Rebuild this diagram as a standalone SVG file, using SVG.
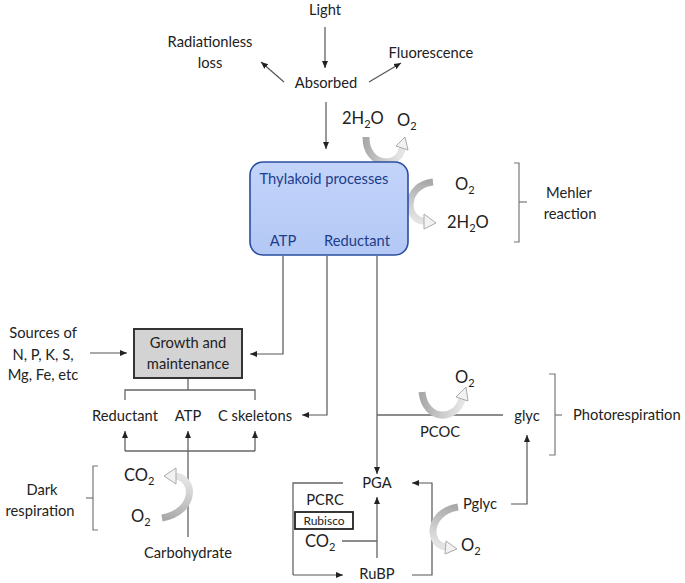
<svg xmlns="http://www.w3.org/2000/svg" width="685" height="583" viewBox="0 0 685 583">
<style>
text{font-family:Lato,"Open Sans","Liberation Sans",sans-serif;font-size:14.7px;fill:#222;}
.c{text-anchor:middle;}
.big{font-size:16.5px;}
.blue{fill:#1c3d8c;}
.ln{fill:none;stroke:#666;stroke-width:1.3;}
.ar{fill:none;stroke:#555;stroke-width:1.2;marker-end:url(#ah);}
.br{fill:none;stroke:#777;stroke-width:1.2;}
.head{fill:#f2f2f2;stroke:#aaa;stroke-width:1;}
</style>
<defs>
<marker id="ah" markerWidth="8" markerHeight="8" refX="7" refY="4" orient="auto" markerUnits="userSpaceOnUse"><path d="M0,1 L7,4 L0,7 z" fill="#222"/></marker>
<linearGradient id="g1" gradientUnits="userSpaceOnUse" x1="366" y1="137" x2="402" y2="146"><stop offset="0" stop-color="#a8a8a8"/><stop offset="1" stop-color="#e4e4e4"/></linearGradient>
<linearGradient id="g2" gradientUnits="userSpaceOnUse" x1="433" y1="182" x2="425" y2="222"><stop offset="0" stop-color="#a8a8a8"/><stop offset="1" stop-color="#e4e4e4"/></linearGradient>
<linearGradient id="g3" gradientUnits="userSpaceOnUse" x1="162" y1="518" x2="175" y2="476"><stop offset="0" stop-color="#a8a8a8"/><stop offset="1" stop-color="#e4e4e4"/></linearGradient>
<linearGradient id="g4" gradientUnits="userSpaceOnUse" x1="422" y1="392" x2="462" y2="398"><stop offset="0" stop-color="#a8a8a8"/><stop offset="1" stop-color="#e4e4e4"/></linearGradient>
<linearGradient id="g5" gradientUnits="userSpaceOnUse" x1="458" y1="507" x2="446" y2="547"><stop offset="0" stop-color="#a8a8a8"/><stop offset="1" stop-color="#e4e4e4"/></linearGradient>
<linearGradient id="tb" x1="0" y1="0" x2="0" y2="1"><stop offset="0" stop-color="#c3d4fa"/><stop offset="1" stop-color="#b3c8f5"/></linearGradient>
</defs>

<g id="connectors">
<line class="ar" x1="325" y1="27" x2="325" y2="68"/>
<line class="ar" x1="284" y1="82" x2="261" y2="62"/>
<line class="ar" x1="369" y1="82" x2="401" y2="63"/>
<line class="ar" x1="326" y1="102" x2="326" y2="149"/>
<line class="ar" x1="283" y1="193" x2="283" y2="221" style="stroke:#1c3d8c"/>
<line class="ar" x1="357" y1="193" x2="357" y2="221" style="stroke:#1c3d8c"/>
<polyline class="ar" points="283,256 283,354 250,354"/>
<polyline class="ar" points="327,256 327,415 302,415"/>
<polyline class="ar" points="377,256 377,474"/>
<line class="ln" x1="377" y1="415" x2="503" y2="415"/>
<line class="ar" x1="90" y1="353" x2="127" y2="353"/>
<polyline class="ln" points="188,379 188,390"/>
<polyline class="ln" points="125,400 125,390 255,390 255,400"/>
<line class="ar" x1="188" y1="537" x2="188" y2="431"/>
<polyline class="ln" points="125,451 255,451"/>
<line class="ar" x1="125" y1="451" x2="125" y2="431"/>
<line class="ar" x1="255" y1="451" x2="255" y2="431"/>
<polyline class="ln" points="343,483 293,483 293,575"/>
<line class="ar" x1="293" y1="575" x2="343" y2="575"/>
<line class="ar" x1="377" y1="558" x2="377" y2="497"/>
<line class="ln" x1="342" y1="541" x2="377" y2="541"/>
<polyline class="ar" points="412,575 432,575 432,483 412,483"/>
<polyline class="ar" points="511,504 527,504 527,435"/>
</g>

<g id="curved-arrows">
<path d="M366,137 C366,168 400,168 402,148" fill="none" stroke="url(#g1)" stroke-width="7"/>
<polygon class="head" points="405,137 396,146 408,150"/>
<path d="M433,182 C404,185 404,221 425,221" fill="none" stroke="url(#g2)" stroke-width="7"/>
<polygon class="head" points="436,223 424,214 424,229"/>
<path d="M162,518 C196,512 196,478 175,476" fill="none" stroke="url(#g3)" stroke-width="7"/>
<polygon class="head" points="164,476 176,468 176,484"/>
<path d="M422,392 C425,421 456,422 462,399" fill="none" stroke="url(#g4)" stroke-width="7"/>
<polygon class="head" points="466,387 456,397 468,401"/>
<path d="M458,507 C427,512 427,545 446,547" fill="none" stroke="url(#g5)" stroke-width="7"/>
<polygon class="head" points="457,549 446,541 445,554"/>
</g>

<g id="brackets">
<polyline class="br" points="514,163 519,163 519,242 514,242"/>
<line class="br" x1="519" y1="202" x2="527" y2="202"/>
<polyline class="br" points="549,374 555,374 555,455 549,455"/>
<line class="br" x1="555" y1="415" x2="562" y2="415"/>
<polyline class="br" points="98,466 93,466 93,530 98,530"/>
<line class="br" x1="93" y1="498" x2="86" y2="498"/>
</g>

<g id="light"><text class="c" x="325" y="15">Light</text></g>
<g id="radiationless"><text class="c" x="210" y="47">Radiationless</text><text class="c" x="210" y="68">loss</text></g>
<g id="fluorescence"><text class="c" x="431" y="58">Fluorescence</text></g>
<g id="absorbed"><text class="c" x="326" y="88">Absorbed</text></g>
<g id="water-split"><text class="big" x="342" y="124">2H<tspan font-size="11" dy="4">2</tspan><tspan dy="-4">O</tspan></text><text class="big" x="397" y="126">O<tspan font-size="11" dy="4">2</tspan></text></g>

<g id="thylakoid">
<rect x="250" y="162" width="158" height="93" rx="13" fill="url(#tb)" stroke="#2b4da0" stroke-width="1.6"/>
<text class="c blue" x="324" y="184">Thylakoid processes</text>
<text class="c blue" x="283" y="246">ATP</text>
<text class="c blue" x="357" y="246">Reductant</text>
</g>

<g id="mehler-species"><text class="big" x="455" y="190">O<tspan font-size="11" dy="4">2</tspan></text><text class="big" x="447" y="228">2H<tspan font-size="11" dy="4">2</tspan><tspan dy="-4">O</tspan></text></g>
<g id="mehler"><text class="c" x="569" y="198">Mehler</text><text class="c" x="570" y="219">reaction</text></g>

<g id="sources"><text class="c" x="43" y="338">Sources of</text><text class="c" x="43" y="360">N, P, K, S,</text><text class="c" x="43" y="380">Mg, Fe, etc</text></g>
<g id="growth">
<rect x="134" y="329" width="108" height="49" fill="#d3d3d3" stroke="#333" stroke-width="2"/>
<text class="c" x="188" y="348">Growth and</text>
<text class="c" x="188" y="369">maintenance</text>
</g>
<g id="reductant"><text class="c" x="125" y="421">Reductant</text></g>
<g id="atp"><text class="c" x="188" y="421">ATP</text></g>
<g id="cskeletons"><text class="c" x="255" y="421">C skeletons</text></g>

<g id="dark-respiration"><text class="c" x="42" y="495">Dark</text><text class="c" x="40" y="516">respiration</text></g>
<g id="dark-species"><text class="big" x="124" y="481">CO<tspan font-size="11" dy="4">2</tspan></text><text class="big" x="131" y="522">O<tspan font-size="11" dy="4">2</tspan></text></g>
<g id="carbohydrate"><text class="c" x="188" y="558">Carbohydrate</text></g>

<g id="pcoc"><text class="big" x="455" y="383">O<tspan font-size="11" dy="4">2</tspan></text><text class="c" x="440" y="437">PCOC</text></g>
<g id="glyc"><text class="c" x="527" y="421">glyc</text></g>
<g id="photorespiration"><text x="573" y="420">Photorespiration</text></g>

<g id="pga"><text class="c" x="377" y="488">PGA</text></g>
<g id="pcrc"><text class="c" x="325" y="505">PCRC</text></g>
<g id="rubisco"><rect x="295" y="512" width="58" height="17" fill="#fff" stroke="#222" stroke-width="1.8"/><text class="c" x="324" y="525" style="font-size:12px">Rubisco</text></g>
<g id="co2"><text class="big" x="305" y="547">CO<tspan font-size="11" dy="4">2</tspan></text></g>
<g id="rubp"><text class="c" x="377" y="579">RuBP</text></g>
<g id="pglyc"><text class="c" x="480" y="509">Pglyc</text></g>
<g id="pglyc-o2"><text class="big" x="461" y="551">O<tspan font-size="11" dy="4">2</tspan></text></g>
</svg>
